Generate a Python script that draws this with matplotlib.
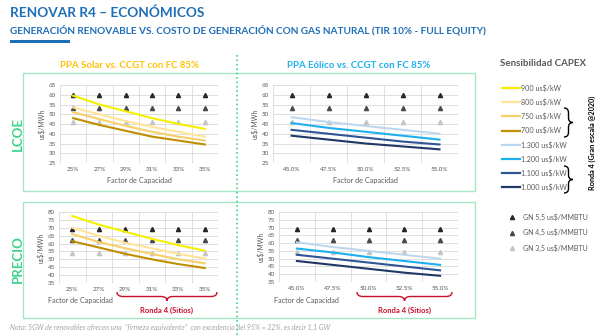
import matplotlib.pyplot as plt
from matplotlib.path import Path
from matplotlib.patches import PathPatch, Rectangle

plt.rcParams['font.family'] = ['Lato', 'DejaVu Sans']

# ---- data ----
solar_fc = ['25%', '27%', '29%', '31%', '33%', '35%']
wind_fc = ['45.0%', '47.5%', '50.0%', '52.5%', '55.0%']

solar_capex = ['900 us$/kW', '800 us$/kW', '750 us$/kW', '700 us$/kW']
wind_capex = ['1.300 us$/kW', '1.200 us$/kW', '1.100 us$/kW', '1.000 us$/kW']
gas_labels = ['GN 5,5 us$/MMBTU', 'GN 4,5 us$/MMBTU', 'GN 3,5 us$/MMBTU']

lcoe_solar = [
    [59.5, 55.0, 51.5, 48.0, 45.0, 42.5],
    [53.5, 50.0, 46.5, 43.5, 41.0, 38.5],
    [51.0, 47.5, 44.0, 41.0, 38.5, 36.5],
    [48.0, 44.5, 41.5, 38.5, 36.5, 34.5],
]
lcoe_wind = [
    [48.5, 46.0, 44.0, 42.0, 40.0],
    [45.5, 43.0, 41.0, 39.0, 37.0],
    [42.0, 40.0, 38.0, 36.0, 34.5],
    [39.0, 37.0, 35.0, 33.5, 32.0],
]
precio_solar = [
    [77.5, 72.0, 67.5, 63.0, 59.0, 55.5],
    [70.0, 65.0, 60.5, 57.0, 53.5, 50.5],
    [66.0, 61.0, 57.0, 53.5, 50.0, 47.5],
    [61.5, 57.5, 53.5, 50.0, 47.0, 44.5],
]
precio_wind = [
    [60.5, 57.5, 55.0, 52.5, 50.0],
    [56.5, 54.0, 51.0, 48.5, 46.0],
    [52.5, 50.0, 47.5, 45.0, 42.5],
    [48.5, 46.0, 43.5, 41.0, 39.0],
]
gas_lcoe = [60, 53, 46]
gas_precio = [69, 62, 54]

solar_colors = ['#F7EF00', '#FFE49A', '#F9CF6A', '#BF8F00']
wind_colors = ['#BDD7EE', '#1CB0EE', '#2F5597', '#1F3864']
gas_colors = ['#262626', '#4A4A4A', '#C4C4C4']

W, H = 600, 335
green = '#3DD28C'
box_green = '#A6E6C6'
gray = '#595959'

fig = plt.figure(figsize=(6, 3.35), dpi=100)

# overlay in pixel coordinates for boxes, titles and annotations
ov = fig.add_axes([0, 0, 1, 1])
ov.set_xlim(0, W)
ov.set_ylim(H, 0)
ov.axis('off')


def px(l, t, r, b):
    return [l / W, 1 - b / H, (r - l) / W, (b - t) / H]


def hbrace(x0, x1, y, h, color):
    r = min(6, (x1 - x0) / 6)
    m = (x0 + x1) / 2
    yc = y + h / 2
    verts = [(x0, y), (x0, yc), (x0 + r, yc), (m - r, yc), (m, yc), (m, y + h),
             (m, y + h), (m, yc), (m + r, yc), (x1 - r, yc), (x1, yc), (x1, y)]
    codes = [Path.MOVETO, Path.CURVE3, Path.CURVE3, Path.LINETO, Path.CURVE3, Path.CURVE3,
             Path.MOVETO, Path.CURVE3, Path.CURVE3, Path.LINETO, Path.CURVE3, Path.CURVE3]
    ov.add_patch(PathPatch(Path(verts, codes), fill=False, color=color, lw=1))


def vbrace(x, y0, y1, w, color):
    r = min(5, (y1 - y0) / 6)
    m = (y0 + y1) / 2
    xc = x + w / 2
    verts = [(x, y0), (xc, y0), (xc, y0 + r), (xc, m - r), (xc, m), (x + w, m),
             (x + w, m), (xc, m), (xc, m + r), (xc, y1 - r), (xc, y1), (x, y1)]
    codes = [Path.MOVETO, Path.CURVE3, Path.CURVE3, Path.LINETO, Path.CURVE3, Path.CURVE3,
             Path.MOVETO, Path.CURVE3, Path.CURVE3, Path.LINETO, Path.CURVE3, Path.CURVE3]
    ov.add_patch(PathPatch(Path(verts, codes), fill=False, color=color, lw=1))


# header
ov.text(10, 13, 'RENOVAR R4 – ECONÓMICOS', color='#1F6FB8', fontsize=9.8,
        fontweight='bold', va='center')
ov.text(10, 30, 'GENERACIÓN RENOVABLE VS. COSTO DE GENERACIÓN CON GAS NATURAL (TIR 10% - FULL EQUITY)',
        color='#1F6FB8', fontsize=7.2, fontweight='bold', va='center')
ov.add_patch(Rectangle((10, 39.5), 60, 3, color='#1F6FB8', lw=0))

# boxes and separator
ov.add_patch(Rectangle((23, 73), 452, 118, fill=False, ec=box_green, lw=1))
ov.add_patch(Rectangle((23, 202), 452, 116, fill=False, ec=box_green, lw=1))
ov.plot([237, 237], [55, 335], color=green, lw=1.2, ls=':')

ov.text(129, 66, 'PPA Solar vs. CCGT con FC 85%', color='#FFC000', fontsize=6.9,
        fontweight='bold', ha='center', va='center')
ov.text(359, 66, 'PPA Eólico vs. CCGT con FC 85%', color='#1CB0EE', fontsize=6.9,
        fontweight='bold', ha='center', va='center')
ov.text(18, 134, 'LCOE', color=green, fontsize=9.5, fontweight='bold', rotation=90,
        ha='center', va='center')
ov.text(18, 259, 'PRECIO', color=green, fontsize=9.5, fontweight='bold', rotation=90,
        ha='center', va='center')


def panel(rect, cats, series, colors, gas, ylo, yhi):
    ax = fig.add_axes(px(*rect))
    x = range(len(cats))
    for yv, c in zip(gas, gas_colors):
        ax.plot(x, [yv] * len(cats), ls='none', marker='^', ms=3, color=c, zorder=2)
    for s, c in zip(series, colors):
        ax.plot(x, s, color=c, lw=1.5, zorder=3)
    ax.set_xlim(-0.5, len(cats) - 0.5)
    ax.set_ylim(ylo, yhi)
    ax.set_yticks(range(ylo, yhi + 1, 5))
    ax.set_xticks(list(x))
    ax.set_xticklabels(cats)
    for xv in range(len(cats) + 1):
        ax.axvline(xv - 0.5, color='#D9D9D9', lw=0.6, zorder=0)
    for yv in range(ylo, yhi + 1, 5):
        ax.axhline(yv, color='#D9D9D9', lw=0.6, zorder=0)
    for sp in ax.spines.values():
        sp.set_visible(False)
    ax.tick_params(length=0, labelsize=4.5, labelcolor=gray, pad=3)
    ax.set_ylabel('us$/MWh', fontsize=4.8, color=gray, labelpad=2)
    return ax


panel((60, 85, 218, 163), solar_fc, lcoe_solar, solar_colors, gas_lcoe, 25, 65)
panel((273, 85, 458, 163), wind_fc, lcoe_wind, wind_colors, gas_lcoe, 25, 65)
panel((59, 212, 218, 283), solar_fc, precio_solar, solar_colors, gas_precio, 35, 80)
panel((279, 212, 458, 282), wind_fc, precio_wind, wind_colors, gas_precio, 35, 80)

ov.text(139, 180, 'Factor de Capacidad', fontsize=5.2, color=gray, ha='center', va='center')
ov.text(365, 180, 'Factor de Capacidad', fontsize=5.2, color=gray, ha='center', va='center')
ov.text(48, 301, 'Factor de Capacidad', fontsize=5.2, color=gray, va='center')
ov.text(274, 301, 'Factor de Capacidad', fontsize=5.2, color=gray, va='center')

# Ronda 4 (Sitios) braces
red = '#C8102E'
hbrace(117, 217, 292, 9, red)
hbrace(357, 452, 292, 9, red)
ov.text(167, 310, 'Ronda 4 (Sitios)', color=red, fontsize=5.5, fontweight='bold',
        ha='center', va='center')
ov.text(405, 310, 'Ronda 4 (Sitios)', color=red, fontsize=5.5, fontweight='bold',
        ha='center', va='center')

# legend
ov.text(543, 63, 'Sensibilidad CAPEX', color=gray, fontsize=7, fontweight='bold',
        ha='center', va='center')
labels = solar_capex + wind_capex
colors = solar_colors + wind_colors
for i, (lab, c) in enumerate(zip(labels, colors)):
    yy = 88 + i * 14.2
    ov.plot([502, 520], [yy, yy], color=c, lw=1.6)
    ov.text(521, yy, lab, fontsize=5.1, color=gray, va='center')
vbrace(564, 108, 137, 9, 'black')
vbrace(564, 166, 193, 9, 'black')
ov.text(592, 143, 'Ronda 4 (Gran escala @2020)', fontsize=5.2, fontweight='bold',
        color='black', rotation=90, ha='center', va='center')

for i, (lab, c) in enumerate(zip(gas_labels, gas_colors)):
    yy = 217 + i * 15.5
    ov.plot([512], [yy], marker='^', ms=3, color=c, ls='none')
    ov.text(523, yy, lab, fontsize=5, color=gray, va='center')

ov.text(10, 327, 'Nota: 5GW de renovables ofrecen una  “firmeza equivalente”  con excedencia '
        'del 95% = 22%, es decir 1,1 GW', fontsize=5, color='#A6A6A6', style='italic',
        va='center')

fig.savefig('out.png', dpi=100)
